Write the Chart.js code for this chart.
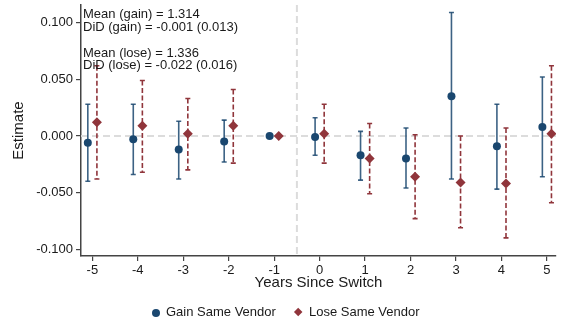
<!DOCTYPE html>
<html>
<head>
<meta charset="utf-8">
<script src="https://cdn.jsdelivr.net/npm/chart.js@4.4.1/dist/chart.umd.min.js"></script>
<style>
  html, body { margin: 0; padding: 0; background: #fff; }
  #wrap { position: relative; width: 561px; height: 324px; }
  #legend { position: absolute; left: 0; top: 304px; width: 561px; height: 18px;
            font: 13px "Liberation Sans", Arial, sans-serif; color: #1a1a1a; }
  #legend span { position: absolute; }
  .dot { width: 8px; height: 8px; border-radius: 50%; background: #1a476f; }
  .dia { width: 6.4px; height: 6.4px; background: #90353b; transform: rotate(45deg); }
</style>
</head>
<body>
<div id="wrap">
  <canvas id="evChart" width="561" height="324"></canvas>
  <div id="legend">
    <span class="dot" style="left:152px; top:4.5px;"></span>
    <span style="left:166px; top:0px;">Gain Same Vendor</span>
    <span class="dia" style="left:295px; top:5.3px;"></span>
    <span style="left:309px; top:0px;">Lose Same Vendor</span>
  </div>
</div>
<script>
// event-study estimates, one per year relative to the switch (-1 is the omitted year)
const years = [-5, -4, -3, -2, -1, 0, 1, 2, 3, 4, 5];

const gainEst = [-0.006, -0.003, -0.012, -0.005, 0, -0.001, -0.017, -0.020, 0.035, -0.009, 0.008];
const gainLo  = [-0.040, -0.034, -0.038, -0.023, null, -0.017, -0.039, -0.046, -0.038, -0.047, -0.036];
const gainHi  = [0.028, 0.028, 0.013, 0.014, null, 0.016, 0.004, 0.007, 0.109, 0.028, 0.052];

const loseEst = [0.012, 0.009, 0.002, 0.009, 0, 0.002, -0.020, -0.036, -0.041, -0.042, 0.002];
const loseLo  = [-0.038, -0.032, -0.030, -0.024, null, -0.024, -0.051, -0.073, -0.081, -0.090, -0.059];
const loseHi  = [0.062, 0.049, 0.033, 0.041, null, 0.028, 0.011, 0.001, 0.000, 0.007, 0.062];

const yTicks = [-0.1, -0.05, 0, 0.05, 0.1];

const notes = [
    "Mean (gain) = 1.314",
    "DiD (gain) = -0.001 (0.013)",
    "Mean (lose) = 1.336",
    "DiD (lose) = -0.022 (0.016)"
];

const shift = 0.1;
const blue = "#1a476f";
const red = "#90353b";
const fontFam = '"Liberation Sans", Arial, sans-serif';

// dashed reference lines at zero and between -1 and 0
const refLines = {
    id: "refLines",
    beforeDatasetsDraw(chart) {
        const { ctx, chartArea: a, scales: { x, y } } = chart;
        ctx.save();
        ctx.strokeStyle = "#dcdcdc";
        ctx.lineWidth = 2;
        ctx.setLineDash([7, 4]);
        const y0 = y.getPixelForValue(0);
        ctx.beginPath();
        ctx.moveTo(a.left, y0);
        ctx.lineTo(a.right, y0);
        const xv = x.getPixelForValue(-0.5);
        ctx.moveTo(xv, a.top);
        ctx.lineTo(xv, a.bottom);
        ctx.stroke();
        ctx.restore();
    }
};

// confidence intervals with small caps
const errorBars = {
    id: "errorBars",
    beforeDatasetsDraw(chart) {
        const { ctx, scales: { x, y } } = chart;
        const draw = (lo, hi, dx, color, dash) => {
            ctx.save();
            ctx.strokeStyle = color;
            ctx.lineWidth = 1.6;
            years.forEach((t, i) => {
                if (lo[i] === null) return;
                const px = x.getPixelForValue(t + dx);
                const yl = y.getPixelForValue(lo[i]);
                const yh = y.getPixelForValue(hi[i]);
                ctx.setLineDash(dash);
                ctx.beginPath();
                ctx.moveTo(px, yh);
                ctx.lineTo(px, yl);
                ctx.stroke();
                ctx.setLineDash([]);
                ctx.beginPath();
                ctx.moveTo(px - 2.5, yh);
                ctx.lineTo(px + 2.5, yh);
                ctx.moveTo(px - 2.5, yl);
                ctx.lineTo(px + 2.5, yl);
                ctx.stroke();
            });
            ctx.restore();
        };
        draw(gainLo, gainHi, -shift, "rgba(26,71,111,0.85)", []);
        draw(loseLo, loseHi, shift, red, [5, 2.5]);
    }
};

const noteText = {
    id: "noteText",
    afterDraw(chart) {
        const { ctx, chartArea: a } = chart;
        ctx.save();
        ctx.font = "13px " + fontFam;
        ctx.fillStyle = "#1a1a1a";
        ctx.textBaseline = "alphabetic";
        const base = [18.3, 30.7, 56.7, 69];
        notes.forEach((s, i) => ctx.fillText(s, a.left + 2, base[i]));
        ctx.restore();
    }
};

new Chart(document.getElementById("evChart"), {
    type: "scatter",
    data: {
        datasets: [
            {
                label: "Gain Same Vendor",
                data: years.map((t, i) => ({ x: t - shift, y: gainEst[i] })),
                pointStyle: "circle",
                radius: 4,
                backgroundColor: blue,
                borderColor: blue,
                borderWidth: 0
            },
            {
                label: "Lose Same Vendor",
                data: years.map((t, i) => ({ x: t + shift, y: loseEst[i] })),
                pointStyle: "rectRot",
                radius: 5,
                backgroundColor: red,
                borderColor: red,
                borderWidth: 0
            }
        ]
    },
    options: {
        responsive: false,
        animation: false,
        layout: { padding: { left: 0, right: 0, top: 5, bottom: 32 } },
        plugins: {
            legend: { display: false },
            tooltip: { enabled: false }
        },
        scales: {
            x: {
                type: "linear",
                min: -5.25,
                max: 5.2,
                afterBuildTicks: s => { s.ticks = years.map(v => ({ value: v })); },
                afterFit: s => { s.height = 36; s.paddingLeft = 0; s.paddingRight = 0; },
                grid: { drawOnChartArea: false, tickLength: 5, color: "#444", lineWidth: 1.2 },
                border: { color: "#444", width: 1.5 },
                ticks: { font: { size: 13, family: fontFam }, color: "#1a1a1a", padding: 2, maxRotation: 0 },
                title: {
                    display: true,
                    text: "Years Since Switch",
                    font: { size: 15, family: fontFam },
                    color: "#1a1a1a",
                    padding: { top: 0, bottom: 0 }
                }
            },
            y: {
                min: -0.106,
                max: 0.1156,
                afterBuildTicks: s => { s.ticks = yTicks.map(v => ({ value: v })); },
                afterFit: s => { s.width = 81; s.paddingTop = 0; s.paddingBottom = 0; },
                grid: { drawOnChartArea: false, tickLength: 5, color: "#444", lineWidth: 1.2 },
                border: { color: "#444", width: 1.5 },
                ticks: {
                    font: { size: 13, family: fontFam },
                    color: "#1a1a1a",
                    padding: 3,
                    callback: v => v.toFixed(3)
                },
                title: {
                    display: true,
                    text: "Estimate",
                    font: { size: 15, family: fontFam },
                    color: "#1a1a1a",
                    padding: { top: 10, bottom: 0 }
                }
            }
        }
    },
    plugins: [refLines, errorBars, noteText]
});
</script>
</body>
</html>
